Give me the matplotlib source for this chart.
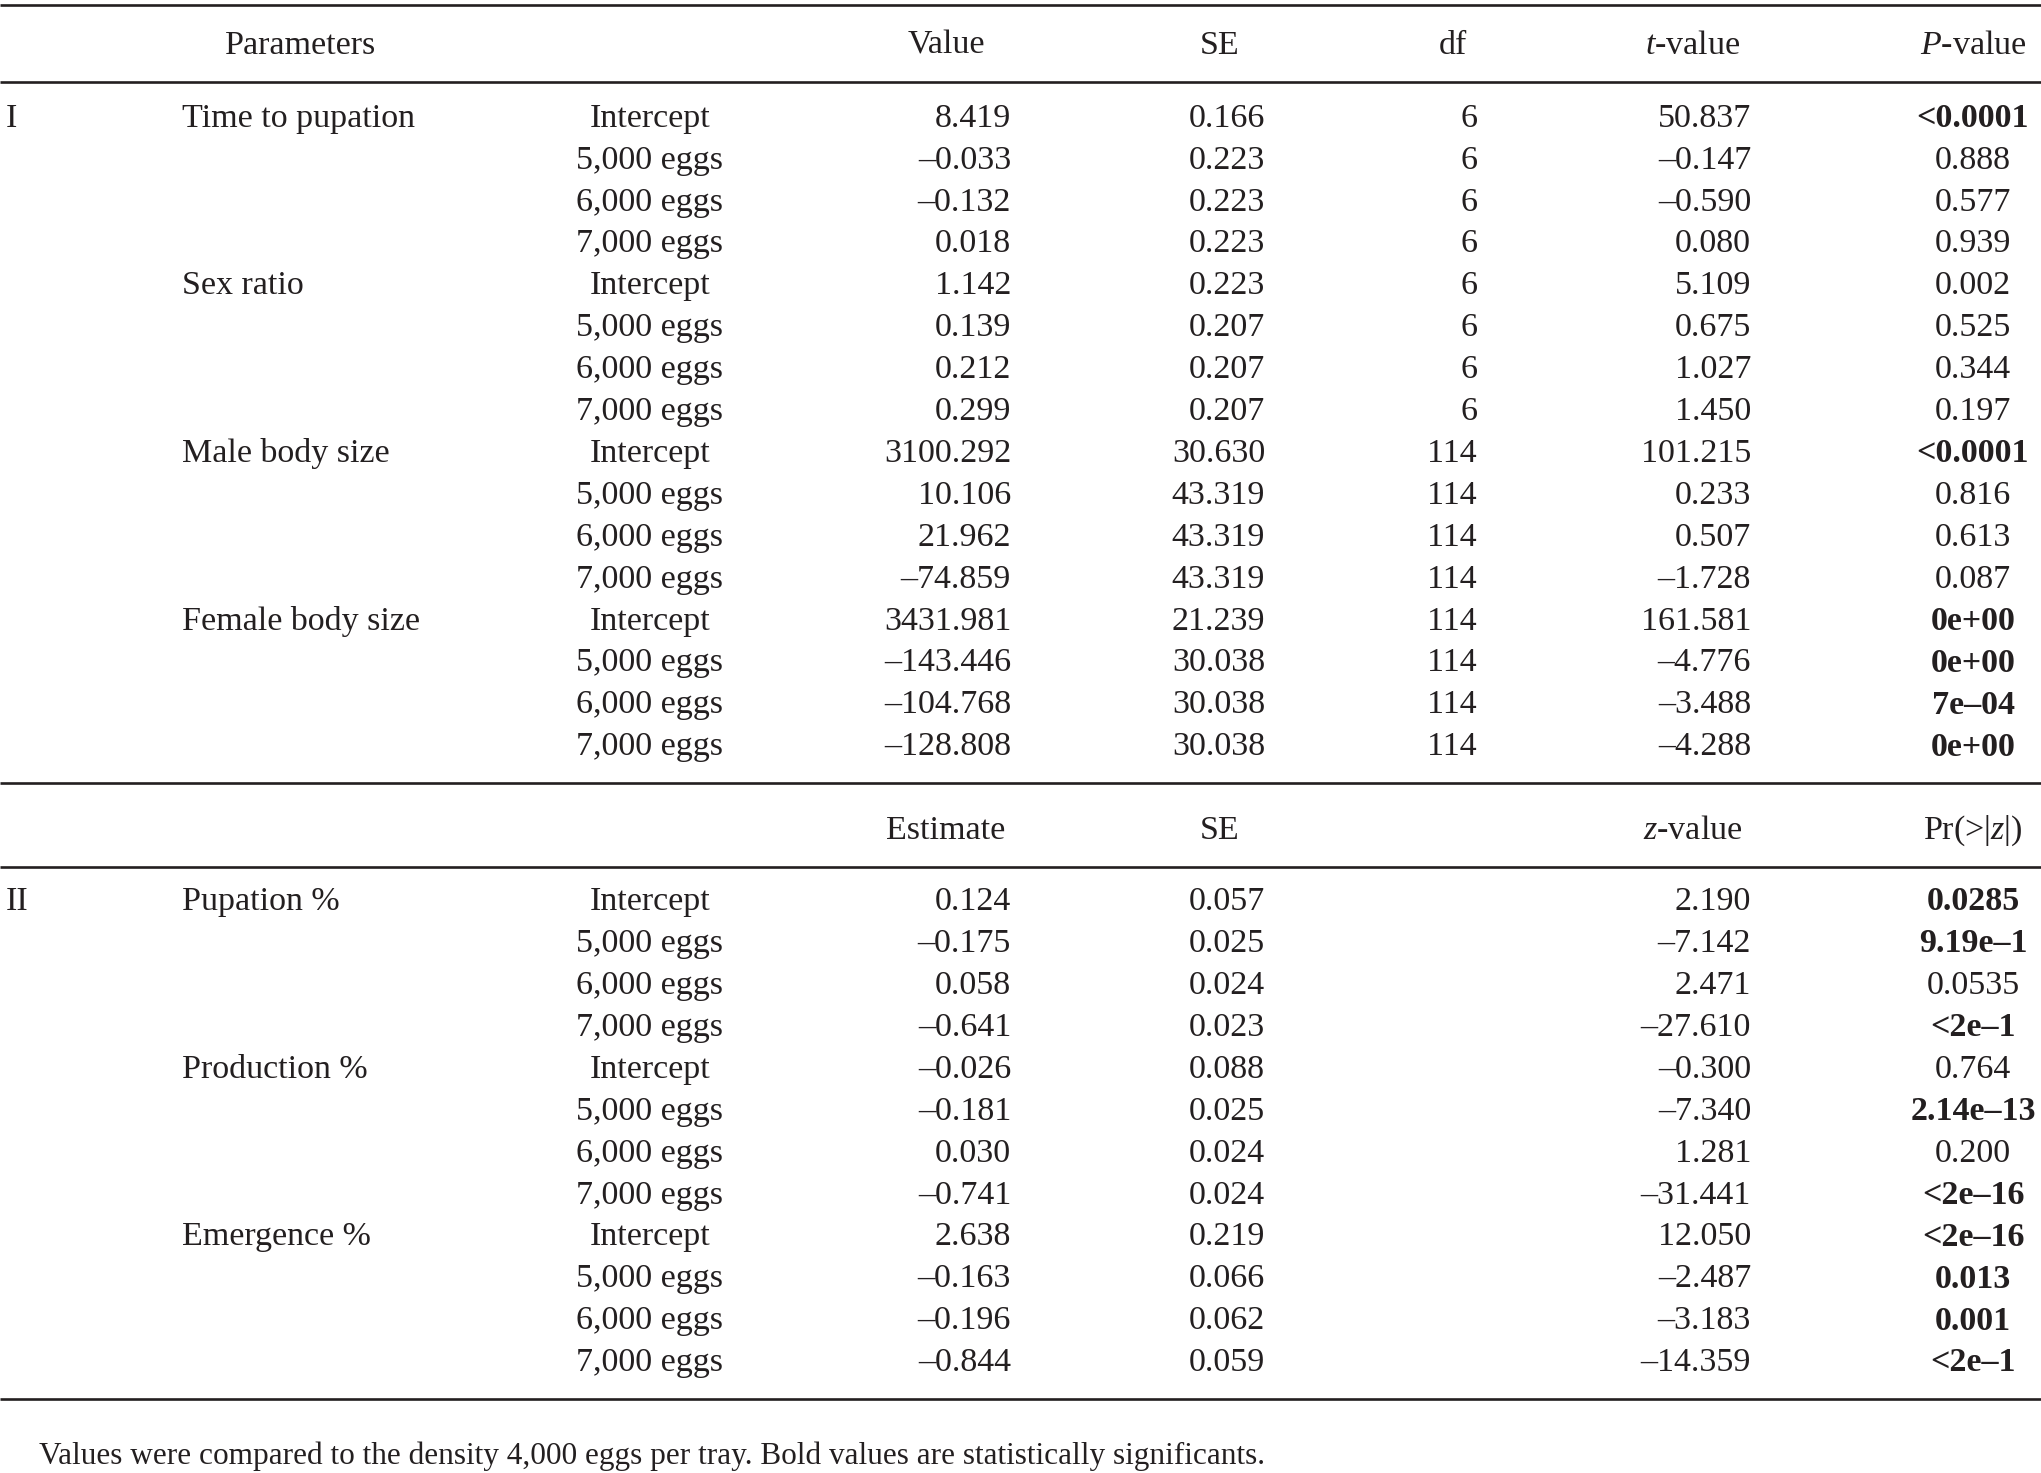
import matplotlib
matplotlib.use("Agg")
import matplotlib.pyplot as plt

# ─── 数据 ───
levels = ["Intercept", "5,000 eggs", "6,000 eggs", "7,000 eggs"]

params_1 = ["Time to pupation", "Sex ratio", "Male body size", "Female body size"]
value_1 = [8.419, -0.033, -0.132, 0.018,
           1.142, 0.139, 0.212, 0.299,
           3100.292, 10.106, 21.962, -74.859,
           3431.981, -143.446, -104.768, -128.808]
se_1 = [0.166, 0.223, 0.223, 0.223,
        0.223, 0.207, 0.207, 0.207,
        30.630, 43.319, 43.319, 43.319,
        21.239, 30.038, 30.038, 30.038]
df_1 = [6] * 8 + [114] * 8
t_1 = [50.837, -0.147, -0.590, 0.080,
       5.109, 0.675, 1.027, 1.450,
       101.215, 0.233, 0.507, -1.728,
       161.581, -4.776, -3.488, -4.288]
p_1 = ["<0.0001", "0.888", "0.577", "0.939",
       "0.002", "0.525", "0.344", "0.197",
       "<0.0001", "0.816", "0.613", "0.087",
       "0e+00", "0e+00", "7e–04", "0e+00"]
bold_1 = [True, False, False, False,
          False, False, False, False,
          True, False, False, False,
          True, True, True, True]

params_2 = ["Pupation %", "Production %", "Emergence %"]
value_2 = [0.124, -0.175, 0.058, -0.641,
           -0.026, -0.181, 0.030, -0.741,
           2.638, -0.163, -0.196, -0.844]
se_2 = [0.057, 0.025, 0.024, 0.023,
        0.088, 0.025, 0.024, 0.024,
        0.219, 0.066, 0.062, 0.059]
z_2 = [2.190, -7.142, 2.471, -27.610,
       -0.300, -7.340, 1.281, -31.441,
       12.050, -2.487, -3.183, -14.359]
p_2 = ["0.0285", "9.19e–1", "0.0535", "<2e–1",
       "0.764", "2.14e–13", "0.200", "<2e–16",
       "<2e–16", "0.013", "0.001", "<2e–1"]
bold_2 = [True, True, False, True,
          False, True, False, True,
          True, True, True, True]

header_1 = ["Parameters", "Value", "SE", "df", "$t$-value", "$P$-value"]
header_2 = ["Estimate", "SE", "$z$-value", "Pr(>|$z$|)"]
footnote = ("Values were compared to the density 4,000 eggs per tray. "
            "Bold values are statistically significants.")

# ─── 样式 ───
W, H = 2041, 1473
FONT = "Liberation Serif"
FS = 24.5
INK = "#231f20"
plt.rcParams["font.family"] = [FONT, "DejaVu Serif"]
plt.rcParams["mathtext.fontset"] = "custom"
plt.rcParams["mathtext.rm"] = FONT
plt.rcParams["mathtext.it"] = FONT + ":italic"

# 列位置 (像素)
X_SEC = 6
X_PAR = 182
X_LEV = 650
X_VAL = 1011
X_SE = 1265
X_DF = 1477
X_T = 1751
X_P = 1973
ROW_H = 41.9
DY = 2.5  # 文字相对行中心的下移

fig = plt.figure(figsize=(W / 100, H / 100), dpi=100)
ax = fig.add_axes([0, 0, 1, 1])
ax.set_xlim(0, W)
ax.set_ylim(H, 0)
ax.axis("off")


def txt(x, y, s, ha="left", bold=False, size=FS):
    ax.text(x, y + DY, s, ha=ha, va="center", fontsize=size, color=INK,
            fontweight="bold" if bold else "normal")


def num(v):
    return f"{v:.3f}".replace("-", "–")


def rule(y, lw=1.9):
    ax.plot([0, W], [y, y], color=INK, lw=lw, solid_capstyle="butt")


# ─── 第 I 部分 ───
rule(5)
y_h = 43
txt(301, y_h, header_1[0], ha="center")
txt(946, y_h, header_1[1], ha="center")
txt(1220, y_h, header_1[2], ha="center")
txt(1453, y_h, header_1[3], ha="center")
txt(1693, y_h, header_1[4], ha="center")
txt(X_P, y_h, header_1[5], ha="center")
rule(82)

y0 = 116
txt(X_SEC, y0, "I")
for i in range(len(value_1)):
    y = y0 + i * ROW_H
    if i % 4 == 0:
        txt(X_PAR, y, params_1[i // 4])
    txt(X_LEV, y, levels[i % 4], ha="center")
    txt(X_VAL, y, num(value_1[i]), ha="right")
    txt(X_SE, y, num(se_1[i]), ha="right")
    txt(X_DF, y, str(df_1[i]), ha="right")
    txt(X_T, y, num(t_1[i]), ha="right")
    txt(X_P, y, p_1[i], ha="center", bold=bold_1[i])

# ─── 第 II 部分 ───
rule(783)
y_h2 = 828
txt(946, y_h2, header_2[0], ha="center")
txt(1220, y_h2, header_2[1], ha="center")
txt(1693, y_h2, header_2[2], ha="center")
txt(X_P, y_h2, header_2[3], ha="center")
rule(867)

y1 = 899.5
txt(X_SEC, y1, "II")
for i in range(len(value_2)):
    y = y1 + i * ROW_H
    if i % 4 == 0:
        txt(X_PAR, y, params_2[i // 4])
    txt(X_LEV, y, levels[i % 4], ha="center")
    txt(X_VAL, y, num(value_2[i]), ha="right")
    txt(X_SE, y, num(se_2[i]), ha="right")
    txt(X_T, y, num(z_2[i]), ha="right")
    txt(X_P, y, p_2[i], ha="center", bold=bold_2[i])

rule(1399)
txt(39, 1454, footnote, size=22.5)

fig.savefig("out.png", dpi=100)
